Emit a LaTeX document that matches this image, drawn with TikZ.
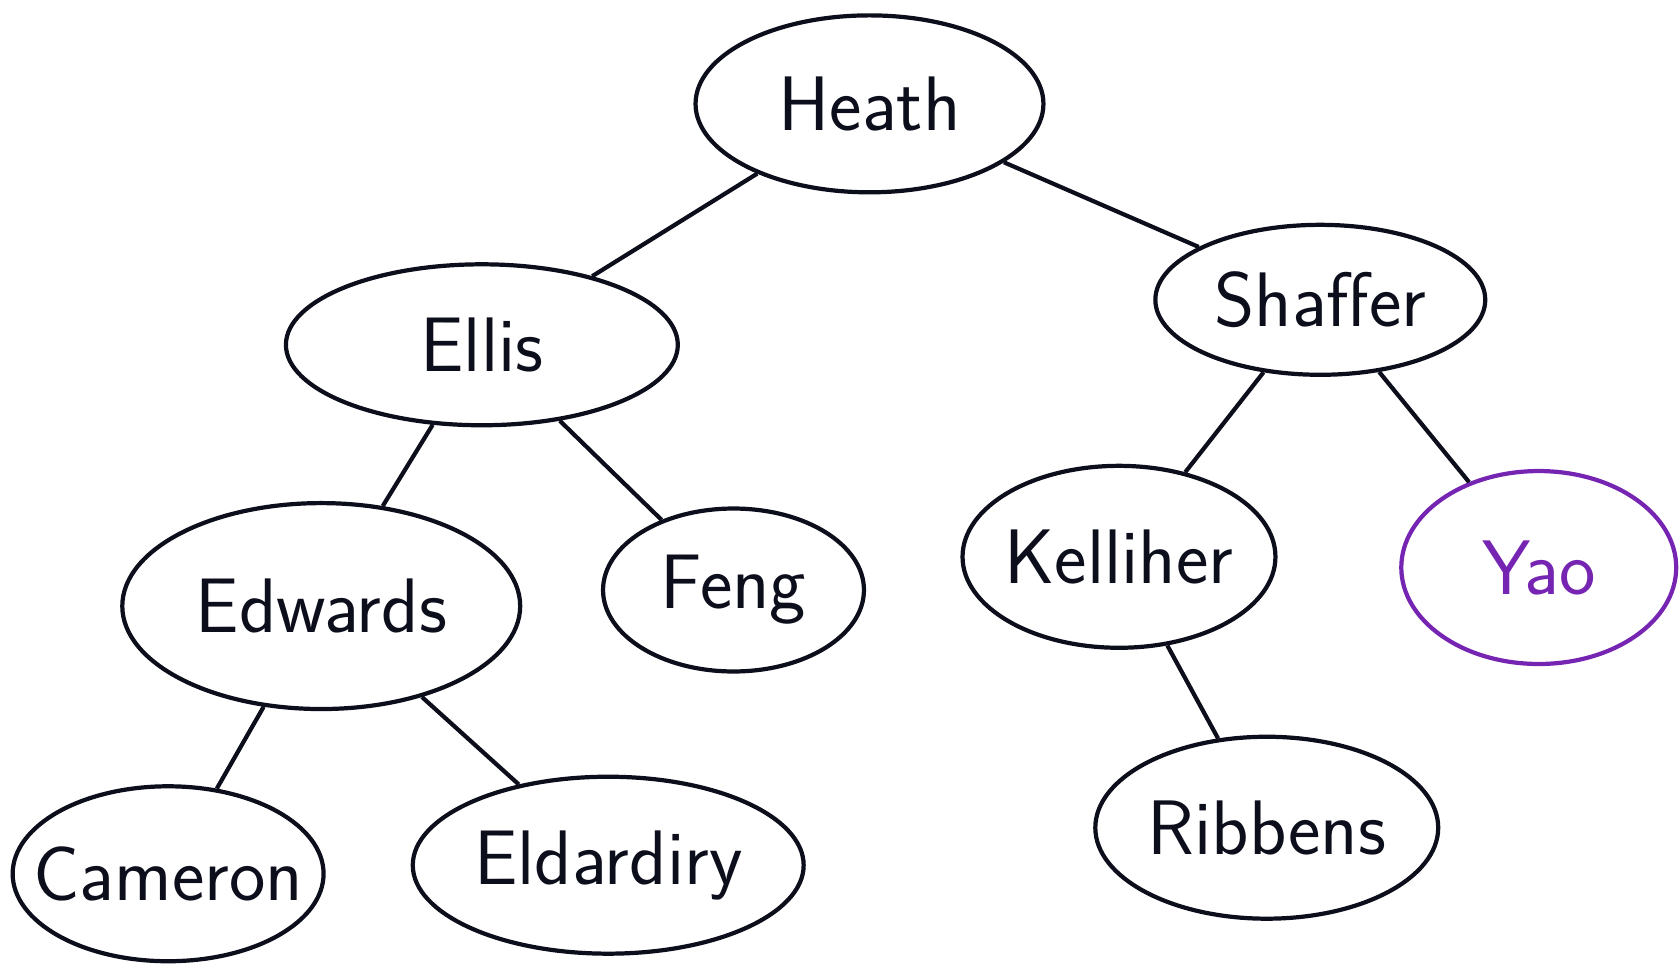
\documentclass[tikz,border=0pt]{standalone}
\usepackage{tikz}
\usetikzlibrary{shapes.geometric}
\definecolor{ink}{RGB}{12,14,28}
\definecolor{yaopurple}{RGB}{118,36,178}

\begin{document}
\begin{tikzpicture}[x=0.010708cm, y=-0.010708cm, line width=1.2pt, ink,
    person/.style={ellipse, draw, inner sep=0pt, label={[font=\fontsize{22}{26}\selectfont\sffamily, text=ink]center:#1}}]
            \useasboundingbox (0,0) rectangle (1568,903);
            \draw (812,97)   node[person=Heath, minimum width=3.48cm, minimum height=1.77cm] (heath) {};
            \draw (450,322)  node[person=Ellis, minimum width=3.92cm, minimum height=1.61cm] (ellis) {};
            \draw (1233,280) node[person=Shaffer, minimum width=3.30cm, minimum height=1.50cm] (shaffer) {};
            \draw (300,566)  node[person=Edwards, minimum width=3.98cm, minimum height=2.06cm] (edwards) {};
            \draw (685,551)  node[person=Feng, minimum width=2.61cm, minimum height=1.63cm] (feng) {};
            \draw (1045,520) node[person=Kelliher, minimum width=3.13cm, minimum height=1.82cm] (kelliher) {};
            \draw (157,816)  node[person=Cameron, minimum width=3.11cm, minimum height=1.75cm] (cameron) {};
            \draw (568,808)  node[person=Eldardiry, minimum width=3.91cm, minimum height=1.77cm] (eldardiry) {};
            \draw (1183,773) node[person=Ribbens, minimum width=3.43cm, minimum height=1.82cm] (ribbens) {};
            % the odd one out
            \draw[yaopurple] (1437,530) node[ellipse, draw, inner sep=0pt, minimum width=2.75cm, minimum height=1.93cm,
                  label={[font=\fontsize{22}{26}\selectfont\sffamily, text=yaopurple]center:Yao}] (yao) {};
            \draw (heath) -- (ellis)
                  (heath) -- (shaffer)
                  (ellis) -- (edwards)
                  (ellis) -- (feng)
                  (shaffer) -- (kelliher)
                  (shaffer) -- (yao)
                  (edwards) -- (cameron)
                  (edwards) -- (eldardiry)
                  (kelliher) -- (ribbens);
        \end{tikzpicture}
\end{document}
